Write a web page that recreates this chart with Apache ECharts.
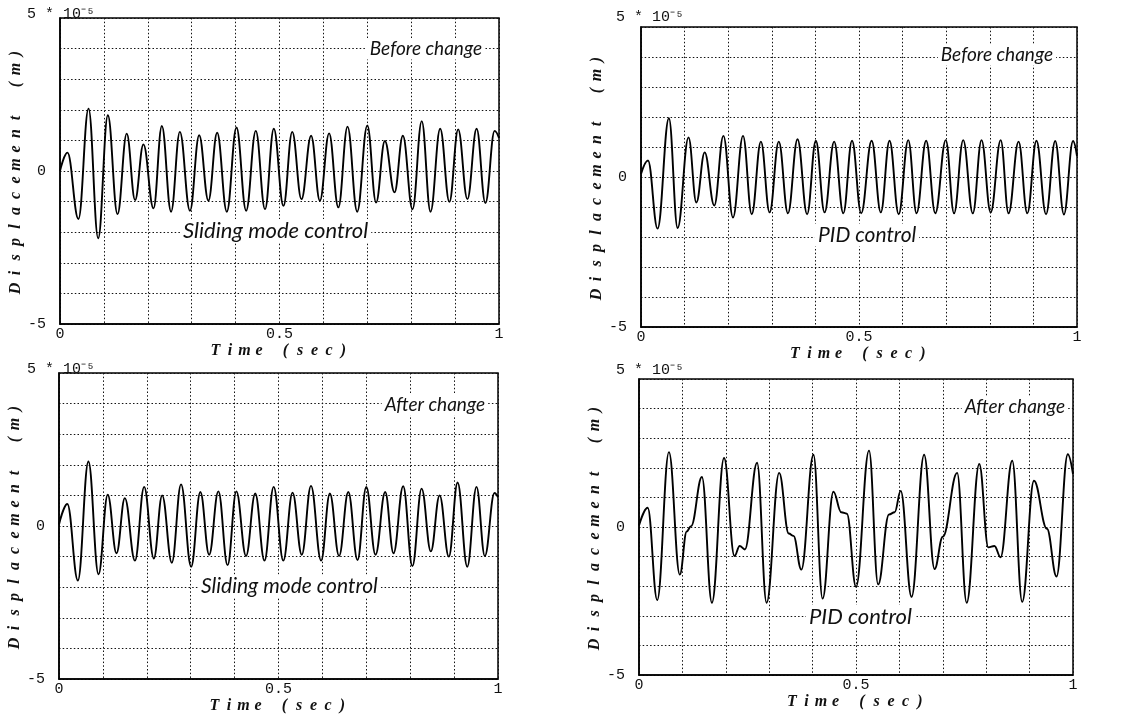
<!DOCTYPE html>
<html><head><meta charset="utf-8">
<script src="https://cdn.jsdelivr.net/npm/echarts@6/dist/echarts.min.js"></script>
<style>html,body{margin:0;padding:0;background:#fff}#c{width:1122px;height:716px}</style>
</head><body><div id="c"></div>
<script>
// ---- data, displacement in units of 1e-5 m ----
const t1 = [0, 0.017, 0.042, 0.065, 0.087, 0.109, 0.131, 0.152, 0.171, 0.190, 0.213, 0.232, 0.253, 0.273, 0.296, 0.317, 0.338, 0.358, 0.380, 0.402, 0.424, 0.446, 0.467, 0.487, 0.509, 0.529, 0.550, 0.572, 0.592, 0.613, 0.634, 0.655, 0.677, 0.700, 0.720, 0.740, 0.762, 0.781, 0.803, 0.824, 0.844, 0.866, 0.887, 0.907, 0.928, 0.949, 0.969, 0.990, 1.0];
const v1 = [0.0, 0.6, -1.57, 2.04, -2.2, 1.82, -1.41, 1.22, -0.95, 0.87, -1.22, 1.47, -1.33, 1.28, -1.30, 1.17, -0.97, 1.25, -1.33, 1.42, -1.30, 1.31, -1.25, 1.38, -1.14, 1.28, -0.92, 1.15, -0.97, 1.23, -1.19, 1.45, -1.33, 1.49, -1.03, 0.98, -0.70, 1.15, -1.25, 1.63, -1.33, 1.38, -1.01, 1.36, -0.92, 1.38, -1.05, 1.31, 1.08];

const t2 = [0, 0.016, 0.038, 0.064, 0.084, 0.109, 0.127, 0.146, 0.168, 0.189, 0.211, 0.234, 0.254, 0.275, 0.295, 0.316, 0.337, 0.359, 0.381, 0.401, 0.421, 0.443, 0.464, 0.484, 0.505, 0.529, 0.550, 0.570, 0.591, 0.613, 0.632, 0.654, 0.675, 0.699, 0.718, 0.739, 0.761, 0.781, 0.802, 0.825, 0.843, 0.866, 0.886, 0.907, 0.929, 0.950, 0.970, 0.991, 1.0];
const v2 = [0.1, 0.55, -1.72, 1.96, -1.70, 1.32, -0.85, 0.82, -0.95, 1.37, -1.35, 1.37, -1.24, 1.18, -1.18, 1.18, -1.21, 1.26, -1.24, 1.21, -1.18, 1.18, -1.21, 1.21, -1.21, 1.21, -1.18, 1.21, -1.24, 1.23, -1.21, 1.21, -1.21, 1.23, -1.21, 1.23, -1.21, 1.23, -1.18, 1.23, -1.21, 1.18, -1.21, 1.21, -1.24, 1.20, -1.25, 1.20, 0.7];

const t3 = [0, 0.019, 0.043, 0.067, 0.090, 0.111, 0.131, 0.150, 0.173, 0.194, 0.216, 0.235, 0.257, 0.278, 0.301, 0.322, 0.342, 0.363, 0.384, 0.404, 0.426, 0.447, 0.468, 0.489, 0.511, 0.532, 0.553, 0.574, 0.597, 0.617, 0.638, 0.659, 0.680, 0.700, 0.721, 0.743, 0.762, 0.784, 0.805, 0.826, 0.847, 0.867, 0.888, 0.908, 0.930, 0.951, 0.970, 0.992, 1.0];
const v3 = [0.05, 0.72, -1.78, 2.11, -1.58, 1.02, -0.89, 0.91, -1.13, 1.28, -1.06, 1.0, -1.2, 1.36, -1.33, 1.11, -0.94, 1.13, -1.28, 1.13, -0.98, 1.06, -1.13, 1.28, -1.13, 1.09, -0.94, 1.31, -1.13, 1.06, -0.98, 1.11, -1.11, 1.28, -0.94, 1.11, -0.89, 1.30, -1.31, 1.22, -0.83, 1.0, -1.0, 1.42, -1.33, 1.28, -0.98, 1.08, 0.94];

const t4 = [0, 0.020, 0.042, 0.069, 0.094, 0.110, 0.120, 0.145, 0.168, 0.196, 0.220, 0.232, 0.244, 0.272, 0.294, 0.323, 0.345, 0.356, 0.374, 0.402, 0.423, 0.448, 0.466, 0.479, 0.500, 0.530, 0.551, 0.576, 0.589, 0.603, 0.628, 0.657, 0.681, 0.700, 0.733, 0.755, 0.784, 0.805, 0.819, 0.833, 0.860, 0.883, 0.910, 0.940, 0.962, 0.988, 1.0];
const v4 = [0.05, 0.65, -2.47, 2.53, -1.61, -0.15, 0.03, 1.69, -2.56, 2.33, -0.98, -0.64, -0.76, 2.17, -2.56, 1.83, -0.22, -0.30, -1.44, 2.44, -2.42, 1.19, 0.5, 0.45, -2.02, 2.58, -1.94, 0.42, 0.5, 1.22, -2.36, 2.44, -1.42, -0.33, 1.83, -2.56, 2.13, -0.69, -0.64, -1.02, 2.24, -2.53, 1.56, -0.06, -1.67, 2.46, 1.79];

const xTickLabels = [0, 0.5, 1];
const yTickLabels = [-5, 0];
const yMultiplier = '5 * 10⁻⁵';
const stateLabels = ['Before change', 'Before change', 'After change', 'After change'];
const methodLabels = ['Sliding mode control', 'PID control', 'Sliding mode control', 'PID control'];
const xName = 'Time (sec)';
const yName = 'Displacement (m)';

// ---- layout ----
const layout = [
  {grid: {left: 60, top: 18, width: 439, height: 306}, mult: [27, 14], state: [485, 49], method: [180, 231], mSize: 22},
  {grid: {left: 641, top: 27, width: 436, height: 300}, mult: [616, 17], state: [1056, 55], method: [815, 235], mSize: 21},
  {grid: {left: 59, top: 373, width: 439, height: 306}, mult: [27, 369], state: [488, 405], method: [198, 586], mSize: 21},
  {grid: {left: 639, top: 379, width: 434, height: 296}, mult: [616, 370], state: [1068, 407], method: [806, 617], mSize: 22}
];
const series = [[t1, v1], [t2, v2], [t3, v3], [t4, v4]];

function spaced(str, key) {
  return str.split('').map(ch => ch === ' ' ? '{' + key + 'g| }' : '{' + key + '|' + ch + '}').join('');
}
const nameFont = {fontFamily: 'Liberation Serif', fontStyle: 'italic', fontWeight: 'bold', color: '#111'};
const tickFont = {fontFamily: 'Liberation Mono', fontSize: 15, color: '#111'};

const grids = [], xAxes = [], yAxes = [], ser = [], graphics = [];
layout.forEach((L, i) => {
  grids.push(Object.assign({show: true, borderColor: '#000', borderWidth: 1.5, backgroundColor: '#fff', containLabel: false, outerBoundsMode: 'none'}, L.grid));
  xAxes.push({
    type: 'value', gridIndex: i, min: 0, max: 1, interval: 0.1,
    axisLine: {show: true, onZero: false, lineStyle: {color: '#000', width: 1.5}},
    axisTick: {show: false},
    splitLine: {show: true, lineStyle: {color: '#111', width: 1, type: [1.5, 2.2]}},
    axisLabel: Object.assign({margin: 3, formatter: v => xTickLabels.some(t => Math.abs(t - v) < 1e-6) ? String(Math.round(v * 10) / 10) : ''}, tickFont),
    name: spaced(xName, 'x'), nameLocation: 'middle', nameGap: 17,
    nameTextStyle: {rich: {
      x: Object.assign({width: 14.5, fontSize: 16}, nameFont),
      xg: Object.assign({width: 12, fontSize: 16}, nameFont)
    }}
  });
  yAxes.push({
    type: 'value', gridIndex: i, min: -5, max: 5, interval: 1,
    axisLine: {show: true, onZero: false, lineStyle: {color: '#000', width: 1.5}},
    axisTick: {show: false},
    splitLine: {show: true, lineStyle: {color: '#111', width: 1, type: [1.5, 2.2]}},
    axisLabel: Object.assign({margin: 14, formatter: v => yTickLabels.some(t => Math.abs(t - v) < 1e-6) ? String(Math.round(v)) : ''}, tickFont),
    name: spaced(yName, 'y'), nameLocation: 'middle', nameGap: 36, nameRotate: 90,
    nameTextStyle: {rich: {
      y: Object.assign({width: 15.5, fontSize: 16}, nameFont),
      yg: Object.assign({width: 18, fontSize: 16}, nameFont)
    }}
  });
  const [tt, vv] = series[i];
  ser.push({
    type: 'line', xAxisIndex: i, yAxisIndex: i,
    data: tt.map((t, k) => [t, vv[k]]),
    smooth: 0.4, smoothMonotone: 'x', showSymbol: false, silent: true,
    lineStyle: {color: '#000', width: 1.9}, z: 3
  });
  graphics.push({type: 'text', x: L.mult[0], y: L.mult[1], z: 10,
    style: {text: yMultiplier, align: 'left', verticalAlign: 'middle', fontFamily: 'Liberation Mono', fontSize: 15, fill: '#111'}});
  graphics.push({type: 'text', x: L.state[0], y: L.state[1], z: 10,
    style: {text: stateLabels[i], align: 'right', verticalAlign: 'middle', fontFamily: 'Lato', fontStyle: 'italic', fontSize: 19, fill: '#111', backgroundColor: '#fff', padding: [1, 3]}});
  graphics.push({type: 'text', x: L.method[0], y: L.method[1], z: 10,
    style: {text: methodLabels[i], align: 'left', verticalAlign: 'middle', fontFamily: 'Lato', fontStyle: 'italic', fontSize: L.mSize, fill: '#111', backgroundColor: '#fff', padding: [1, 3]}});
});

const chart = echarts.init(document.getElementById('c'), null, {renderer: 'canvas'});
chart.setOption({
  animation: false,
  backgroundColor: '#fff',
  grid: grids, xAxis: xAxes, yAxis: yAxes, series: ser, graphic: graphics
});
</script>
</body></html>
